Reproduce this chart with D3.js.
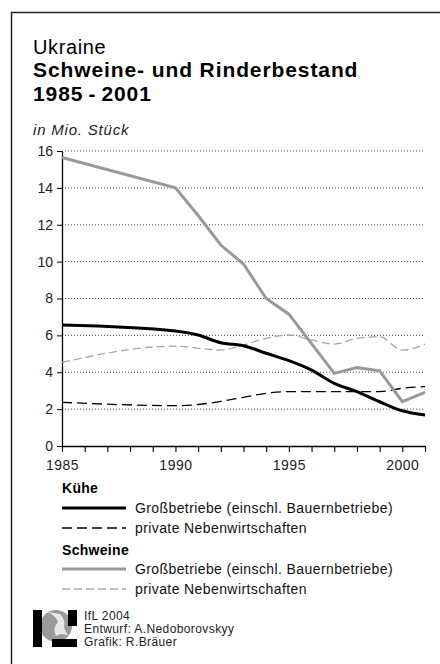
<!DOCTYPE html>
<html>
<head>
<meta charset="utf-8">
<script src="https://cdn.jsdelivr.net/npm/d3@7"></script>
<style>
  body { margin: 0; background: #fff; }
  svg { display: block; font-family: "Liberation Sans", Arial, sans-serif; }
</style>
</head>
<body>
<svg id="chart" width="440" height="664"></svg>
<script>
// data
const years = [1985, 1990, 1991, 1992, 1993, 1994, 1995, 1996, 1997, 1998, 1999, 2000, 2001];
const cowsLarge   = [6.56, 6.24, 6.02, 5.6, 5.44, 5.03, 4.63, 4.12, 3.4, 2.95, 2.4, 1.91, 1.68];
const cowsPrivate = [2.37, 2.19, 2.25, 2.42, 2.64, 2.86, 2.95, 2.95, 2.95, 2.95, 2.95, 3.13, 3.22];
const pigsLarge   = [15.65, 14.0, 12.5, 10.9, 9.87, 8.0, 7.15, 5.55, 3.94, 4.25, 4.08, 2.4, 2.91];
const pigsPrivate = [4.54, 5.42, 5.3, 5.2, 5.48, 5.84, 6.02, 5.75, 5.53, 5.84, 5.93, 5.2, 5.53];
const yTicks = [0, 2, 4, 6, 8, 10, 12, 14, 16];
const xLabels = [1985, 1990, 1995, 2000];

const svg = d3.select('#chart');

// frame (top + left edge only visible)
svg.append('path')
  .attr('d', 'M11.5,664 V12.5 H440')
  .attr('fill', 'none').attr('stroke', '#222').attr('stroke-width', 1.5);

// titles
svg.append('text').attr('x', 33).attr('y', 54).attr('font-size', 20).attr('letter-spacing', 0.6)
  .text('Ukraine');
svg.append('text').attr('x', 33).attr('y', 77).attr('font-size', 21).attr('font-weight', 'bold')
  .attr('letter-spacing', 0.9).text('Schweine- und Rinderbestand');
svg.append('text').attr('x', 33).attr('y', 101).attr('font-size', 21).attr('font-weight', 'bold')
  .attr('letter-spacing', 0.9).text('1985\u2009-\u20092001');
svg.append('text').attr('x', 33).attr('y', 135).attr('font-size', 15).attr('font-style', 'italic')
  .attr('letter-spacing', 0.8).attr('fill', '#222').text('in Mio. Stück');

const x = d3.scaleLinear().domain([1985, 2001]).range([62, 425]);
const y = d3.scaleLinear().domain([0, 16]).range([446, 151]);

// dotted grid
svg.append('g').selectAll('line').data(yTicks.filter(d => d > 0)).join('line')
  .attr('x1', x(1985)).attr('x2', x(2001))
  .attr('y1', d => y(d)).attr('y2', d => y(d))
  .attr('stroke', '#555').attr('stroke-width', 1).attr('stroke-dasharray', '1,2');

// y axis
const yAxis = svg.append('g').attr('transform', `translate(${x(1985)},0)`)
  .call(d3.axisLeft(y).tickValues(yTicks).tickSize(5).tickPadding(4).tickSizeOuter(0));
yAxis.select('.domain').attr('stroke', '#000').attr('stroke-width', 1.3);
yAxis.selectAll('text').attr('font-size', 14).attr('fill', '#222').style('font-family', 'inherit');

// x axis
const xAxis = svg.append('g').attr('transform', `translate(0,${y(0)})`)
  .call(d3.axisBottom(x).tickValues(d3.range(1985, 2002)).tickSize(6).tickSizeOuter(0)
    .tickFormat(d => xLabels.includes(d) ? d : ''));
xAxis.select('.domain').attr('stroke', '#000').attr('stroke-width', 1.3);
xAxis.selectAll('.tick line').attr('stroke', '#000').attr('stroke-width', 1.1);
xAxis.selectAll('text').attr('font-size', 14).attr('fill', '#222').attr('dy', '1.05em')
  .attr('letter-spacing', 0.5).style('font-family', 'inherit');

// series
const series = [
  { values: pigsPrivate, color: '#a6a6a6', width: 1.3, dash: '8,4', curve: d3.curveMonotoneX },
  { values: cowsPrivate, color: '#000', width: 1.3, dash: '10,5', curve: d3.curveMonotoneX },
  { values: pigsLarge, color: '#999', width: 3, dash: null, curve: d3.curveLinear },
  { values: cowsLarge, color: '#000', width: 3, dash: null, curve: d3.curveMonotoneX }
];
series.forEach(s => {
  const line = d3.line().x((d, i) => x(years[i])).y(d => y(d)).curve(s.curve);
  svg.append('path').datum(s.values)
    .attr('d', line)
    .attr('fill', 'none')
    .attr('stroke', s.color)
    .attr('stroke-width', s.width)
    .attr('stroke-dasharray', s.dash);
});

// legend
const legend = [
  { head: 'Kühe', y: 493 },
  { label: 'Großbetriebe (einschl. Bauernbetriebe)', y: 508, color: '#000', width: 3, dash: null },
  { label: 'private Nebenwirtschaften', y: 528, color: '#000', width: 1.3, dash: '10,5' },
  { head: 'Schweine', y: 555 },
  { label: 'Großbetriebe (einschl. Bauernbetriebe)', y: 569, color: '#999', width: 3, dash: null },
  { label: 'private Nebenwirtschaften', y: 589, color: '#a6a6a6', width: 1.3, dash: '8,4' }
];
legend.forEach(l => {
  if (l.head) {
    svg.append('text').attr('x', 62).attr('y', l.y).attr('font-size', 14).attr('font-weight', 'bold')
      .attr('letter-spacing', 0.3).text(l.head);
  } else {
    svg.append('line').attr('x1', 62).attr('x2', 126).attr('y1', l.y).attr('y2', l.y)
      .attr('stroke', l.color).attr('stroke-width', l.width).attr('stroke-dasharray', l.dash);
    svg.append('text').attr('x', 135).attr('y', l.y + 5).attr('font-size', 14).attr('fill', '#111')
      .attr('letter-spacing', 0.4).text(l.label);
  }
});

// logo
const logo = svg.append('g');
logo.append('circle').attr('cx', 56).attr('cy', 626).attr('r', 16).attr('fill', '#9a9a9a');
logo.append('path').attr('d', 'M48,612 q8,4 10,10 q-6,6 -2,14 q6,-4 12,0 l-4,-8 q2,-8 -4,-14 z')
  .attr('fill', '#e8e8e8');
logo.append('rect').attr('x', 33).attr('y', 610).attr('width', 9).attr('height', 37).attr('fill', '#000');
logo.append('rect').attr('x', 68).attr('y', 610).attr('width', 9).attr('height', 16).attr('fill', '#000');
logo.append('rect').attr('x', 52).attr('y', 639).attr('width', 25).attr('height', 8).attr('fill', '#000');

const credits = ['IfL 2004', 'Entwurf: A.Nedoborovskyy', 'Grafik: R.Bräuer'];
svg.append('g').selectAll('text').data(credits).join('text')
  .attr('x', 84).attr('y', (d, i) => 620 + i * 13)
  .attr('font-size', 12).attr('letter-spacing', 0.4).attr('fill', '#222').text(d => d);
</script>
</body>
</html>
